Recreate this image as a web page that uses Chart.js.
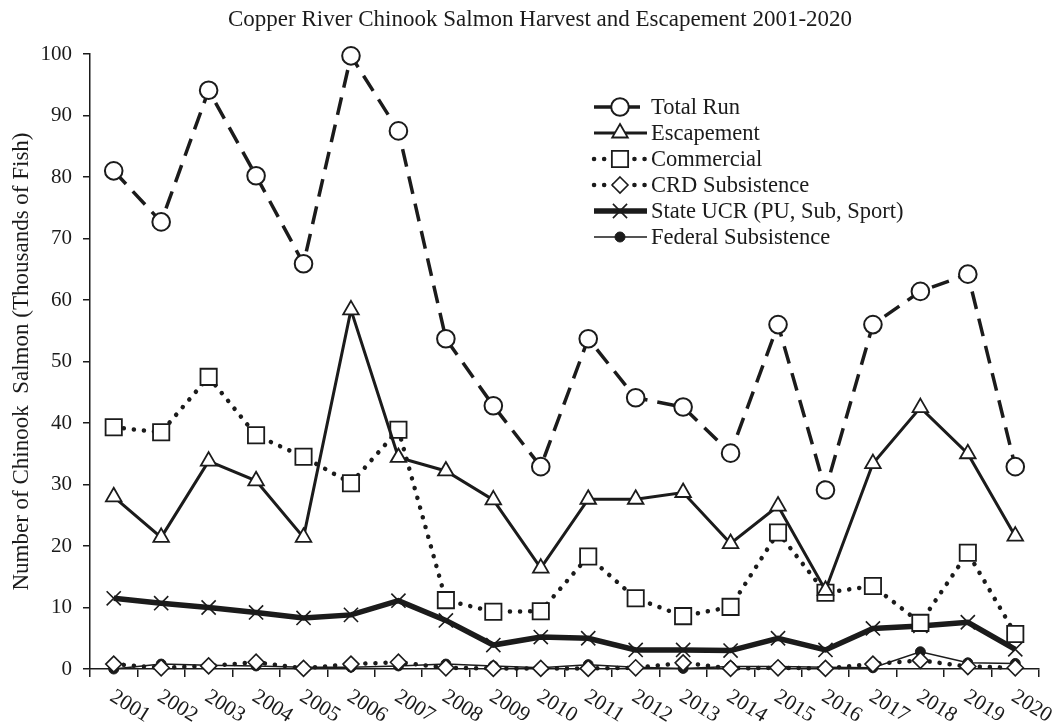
<!DOCTYPE html>
<html>
<head>
<meta charset="utf-8">
<title>Copper River Chinook Salmon</title>
<style>
  html, body { margin: 0; padding: 0; background: #fff; }
  #wrap { width: 1056px; height: 725px; position: relative; }
</style>
</head>
<body>
<div id="wrap"><canvas id="myChart" width="1056" height="725"></canvas></div>
<script src="https://cdn.jsdelivr.net/npm/chart.js"></script>
<script>
const years = ['2001','2002','2003','2004','2005','2006','2007','2008','2009','2010',
               '2011','2012','2013','2014','2015','2016','2017','2018','2019','2020']

// thousands of fish
const totalRun   = [81.0, 72.7, 94.1, 80.2, 65.9, 99.7, 87.5, 53.7, 42.8, 32.9, 53.7, 44.1, 42.6, 35.1, 56.0, 29.1, 56.0, 61.4, 64.2, 32.9]
const escapement = [28.0, 21.4, 33.8, 30.6, 21.4, 58.4, 34.4, 32.2, 27.5, 16.4, 27.6, 27.6, 28.7, 20.4, 26.5, 12.8, 33.4, 42.5, 35.0, 21.6]
const commercial = [39.3, 38.5, 47.5, 38.0, 34.5, 30.2, 38.9, 11.2, 9.3, 9.4, 18.3, 11.5, 8.6, 10.1, 22.2, 12.4, 13.5, 7.5, 18.9, 5.7]
const crdSubsistence = [0.8, 0.2, 0.5, 1.1, 0.1, 0.8, 1.1, 0.2, 0.1, 0.1, 0.1, 0.2, 1.0, 0.1, 0.2, 0.1, 0.8, 1.4, 0.4, 0.2]
const stateUcr   = [11.5, 10.7, 10.0, 9.2, 8.3, 8.8, 11.1, 7.9, 3.9, 5.2, 5.0, 3.1, 3.1, 3.0, 5.0, 3.1, 6.6, 7.0, 7.6, 3.2]
const fedSubsistence = [0.0, 0.8, 0.6, 0.5, 0.3, 0.3, 0.5, 0.8, 0.5, 0.2, 0.7, 0.3, 0.1, 0.4, 0.4, 0.3, 0.2, 2.8, 1.0, 0.9]

const seriesNames = ['Total Run', 'Escapement', 'Commercial', 'CRD Subsistence', 'State UCR (PU, Sub, Sport)', 'Federal Subsistence']
const yTicks = [0, 10, 20, 30, 40, 50, 60, 70, 80, 90, 100]

const ink = '#1b1b1b'
const serif = "'Liberation Serif', 'Times New Roman', serif"

// little marker painter, used by the legend
const drawMarker = (ctx, ds, x, y) => {
  const r = ds.pointRadius
  ctx.save()
  ctx.setLineDash([])
  ctx.lineWidth = ds.pointBorderWidth
  ctx.strokeStyle = ds.pointBorderColor
  ctx.fillStyle = ds.pointBackgroundColor
  ctx.beginPath()
  if (ds.pointStyle === 'circle') {
    ctx.arc(x, y, r, 0, Math.PI * 2)
  } else if (ds.pointStyle === 'triangle') {
    for (let k = 0; k < 3; k++) {
      const a = k * 2 * Math.PI / 3
      const px = x + Math.sin(a) * r, py = y - Math.cos(a) * r
      k === 0 ? ctx.moveTo(px, py) : ctx.lineTo(px, py)
    }
    ctx.closePath()
  } else if (ds.pointStyle === 'rect') {
    const s = Math.SQRT1_2 * r
    ctx.rect(x - s, y - s, 2 * s, 2 * s)
  } else if (ds.pointStyle === 'rectRot') {
    ctx.moveTo(x, y - r); ctx.lineTo(x + r, y); ctx.lineTo(x, y + r); ctx.lineTo(x - r, y); ctx.closePath()
  } else if (ds.pointStyle === 'crossRot') {
    const s = Math.SQRT1_2 * r
    ctx.moveTo(x - s, y - s); ctx.lineTo(x + s, y + s)
    ctx.moveTo(x + s, y - s); ctx.lineTo(x - s, y + s)
    ctx.stroke(); ctx.restore(); return
  }
  ctx.fill()
  ctx.stroke()
  ctx.restore()
}

const extrasPlugin = {
  id: 'extras',
  afterDraw(chart) {
    const ctx = chart.ctx
    const xs = chart.scales.x
    ctx.save()
    ctx.fillStyle = ink

    // title
    ctx.font = `23px ${serif}`
    ctx.textAlign = 'center'
    ctx.textBaseline = 'middle'
    ctx.fillText('Copper River Chinook Salmon Harvest and Escapement 2001-2020', 540, 20)

    // slanted year labels (clockwise, like the original)
    ctx.font = `21.5px ${serif}`
    ctx.textAlign = 'left'
    ctx.textBaseline = 'middle'
    years.forEach((yr, i) => {
      const px = xs.getPixelForValue(i)
      ctx.save()
      ctx.translate(px - 2, 695)
      ctx.rotate(32 * Math.PI / 180)
      ctx.fillText(yr, 0, 0)
      ctx.restore()
    })

    // legend inside the plot
    chart.data.datasets.forEach((ds, i) => {
      const y = 107 + i * 26
      ctx.save()
      ctx.strokeStyle = ds.borderColor
      ctx.lineWidth = ds.borderWidth
      ctx.lineCap = ds.borderCapStyle || 'butt'
      ctx.setLineDash(ds.borderDash || [])
      ctx.beginPath()
      ctx.moveTo(594, y)
      ctx.lineTo(647, y)
      ctx.stroke()
      ctx.restore()
      drawMarker(ctx, ds, 620, y)
      ctx.fillStyle = ink
      ctx.font = `22.5px ${serif}`
      ctx.textAlign = 'left'
      ctx.textBaseline = 'middle'
      ctx.fillText(ds.label, 651, y + 1)
    })
    ctx.restore()
  }
}

const ctx = document.getElementById('myChart')

new Chart(ctx, {
  type: 'line',
  data: {
    labels: years,
    datasets: [
      {
        label: seriesNames[0], data: totalRun, clip: false,
        borderColor: ink, borderWidth: 3.5, borderDash: [18, 10],
        pointStyle: 'circle', pointRadius: 8.8, pointBorderWidth: 2,
        pointBackgroundColor: '#fff', pointBorderColor: ink
      },
      {
        label: seriesNames[1], data: escapement, clip: false,
        borderColor: ink, borderWidth: 3,
        pointStyle: 'triangle', pointRadius: 9, pointBorderWidth: 1.8,
        pointBackgroundColor: '#fff', pointBorderColor: ink
      },
      {
        label: seriesNames[2], data: commercial, clip: false,
        borderColor: ink, borderWidth: 4.5, borderDash: [0.1, 10], borderCapStyle: 'round',
        pointStyle: 'rect', pointRadius: 11.5, pointBorderWidth: 1.8,
        pointBackgroundColor: '#fff', pointBorderColor: ink
      },
      {
        label: seriesNames[3], data: crdSubsistence, clip: false,
        borderColor: ink, borderWidth: 4.5, borderDash: [0.1, 10], borderCapStyle: 'round',
        pointStyle: 'rectRot', pointRadius: 8, pointBorderWidth: 1.6,
        pointBackgroundColor: '#fff', pointBorderColor: ink
      },
      {
        label: seriesNames[4], data: stateUcr, clip: false,
        borderColor: ink, borderWidth: 5.5,
        pointStyle: 'crossRot', pointRadius: 10, pointBorderWidth: 1.6,
        pointBackgroundColor: '#fff', pointBorderColor: ink
      },
      {
        label: seriesNames[5], data: fedSubsistence, clip: false,
        borderColor: ink, borderWidth: 1.5,
        pointStyle: 'circle', pointRadius: 5, pointBorderWidth: 1,
        pointBackgroundColor: ink, pointBorderColor: ink
      }
    ]
  },
  options: {
    responsive: false,
    animation: false,
    devicePixelRatio: 1,
    layout: { padding: { top: 54, right: 17, left: 0, bottom: 0 } },
    plugins: {
      legend: { display: false },
      title: { display: false },
      tooltip: { enabled: false }
    },
    elements: { line: { tension: 0 } },
    scales: {
      x: {
        type: 'category',
        offset: true,
        grid: { offset: true, drawOnChartArea: false, drawTicks: true, tickLength: 8, color: ink, lineWidth: 1.5 },
        border: { display: true, color: ink, width: 1.5 },
        ticks: { display: false },
        afterFit: (scale) => { scale.height = 56 }
      },
      y: {
        min: 0,
        max: 100,
        afterBuildTicks: (scale) => { scale.ticks = yTicks.map(v => ({ value: v })) },
        grid: { drawOnChartArea: false, drawTicks: true, tickLength: 7, color: ink, lineWidth: 1.5 },
        border: { display: true, color: ink, width: 1.5 },
        ticks: { color: ink, padding: 11, font: { family: serif, size: 21 } },
        title: {
          display: true,
          text: 'Number of Chinook  Salmon (Thousands of Fish)',
          color: ink,
          font: { family: serif, size: 23 },
          padding: { top: 8, bottom: 0 }
        },
        afterFit: (scale) => { scale.width = 90 }
      }
    }
  },
  plugins: [extrasPlugin]
})
</script>
</body>
</html>
